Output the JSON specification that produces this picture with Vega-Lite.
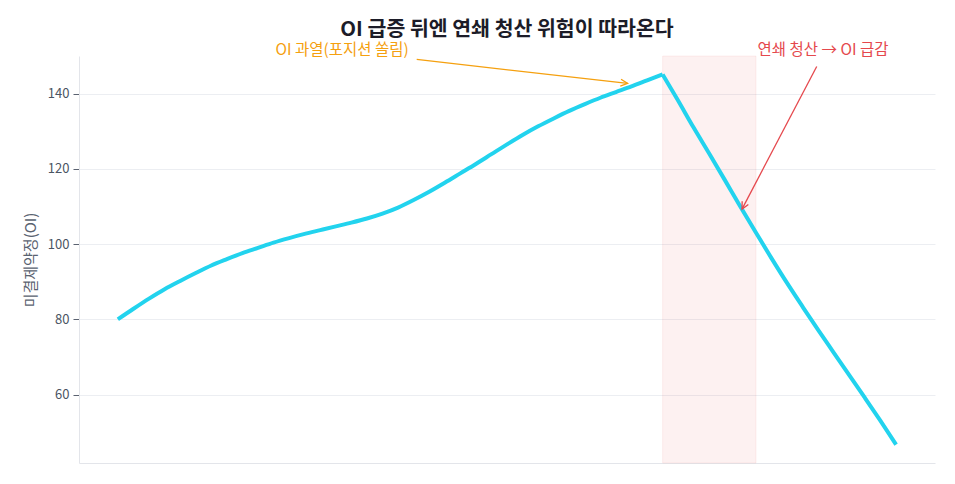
{
  "$schema": "https://vega.github.io/schema/vega-lite/v6.json",
  "width": 856,
  "height": 407,
  "autosize": "none",
  "padding": {"left": 79, "top": 56, "right": 20, "bottom": 21},
  "background": "white",
  "config": {
    "font": "Noto Sans CJK KR",
    "view": {"stroke": null}
  },
  "title": {
    "text": "OI 급증 뒤엔 연쇄 청산 위험이 따라온다",
    "fontSize": 20.5,
    "fontWeight": "bold",
    "color": "#1c1c28",
    "anchor": "middle",
    "baseline": "bottom",
    "offset": -17
  },
  "datasets": {
    "oi": [
      {"t": 0, "oi": 80.0, "seg": "up"}, {"t": 2, "oi": 82.8, "seg": "up"}, {"t": 4, "oi": 85.5, "seg": "up"}, {"t": 6, "oi": 88.0, "seg": "up"},
      {"t": 8, "oi": 90.2, "seg": "up"}, {"t": 10, "oi": 92.3, "seg": "up"}, {"t": 12, "oi": 94.3, "seg": "up"}, {"t": 14, "oi": 96.0, "seg": "up"},
      {"t": 16, "oi": 97.6, "seg": "up"}, {"t": 18, "oi": 99.0, "seg": "up"}, {"t": 20, "oi": 100.4, "seg": "up"}, {"t": 22, "oi": 101.6, "seg": "up"},
      {"t": 24, "oi": 102.7, "seg": "up"}, {"t": 26, "oi": 103.7, "seg": "up"}, {"t": 28, "oi": 104.7, "seg": "up"}, {"t": 30, "oi": 105.7, "seg": "up"},
      {"t": 32, "oi": 106.8, "seg": "up"}, {"t": 34, "oi": 108.1, "seg": "up"}, {"t": 36, "oi": 109.7, "seg": "up"}, {"t": 38, "oi": 111.7, "seg": "up"},
      {"t": 40, "oi": 113.9, "seg": "up"}, {"t": 42, "oi": 116.3, "seg": "up"}, {"t": 44, "oi": 118.8, "seg": "up"}, {"t": 46, "oi": 121.3, "seg": "up"},
      {"t": 48, "oi": 123.9, "seg": "up"}, {"t": 50, "oi": 126.5, "seg": "up"}, {"t": 52, "oi": 129.0, "seg": "up"}, {"t": 54, "oi": 131.3, "seg": "up"},
      {"t": 56, "oi": 133.4, "seg": "up"}, {"t": 58, "oi": 135.4, "seg": "up"}, {"t": 60, "oi": 137.2, "seg": "up"}, {"t": 62, "oi": 138.9, "seg": "up"},
      {"t": 64, "oi": 140.4, "seg": "up"}, {"t": 66, "oi": 141.9, "seg": "up"}, {"t": 68, "oi": 143.5, "seg": "up"}, {"t": 70, "oi": 145.1, "seg": "up"},
      {"t": 70, "oi": 145.1, "seg": "down"},
      {"t": 72, "oi": 138.1, "seg": "down"}, {"t": 74, "oi": 130.9, "seg": "down"}, {"t": 76, "oi": 124.0, "seg": "down"}, {"t": 78, "oi": 117.0, "seg": "down"},
      {"t": 80, "oi": 109.9, "seg": "down"}, {"t": 82, "oi": 103.0, "seg": "down"}, {"t": 84, "oi": 96.2, "seg": "down"}, {"t": 86, "oi": 89.6, "seg": "down"},
      {"t": 88, "oi": 83.3, "seg": "down"}, {"t": 90, "oi": 77.1, "seg": "down"}, {"t": 92, "oi": 71.1, "seg": "down"}, {"t": 94, "oi": 65.1, "seg": "down"},
      {"t": 96, "oi": 59.1, "seg": "down"}, {"t": 98, "oi": 53.0, "seg": "down"}, {"t": 100, "oi": 46.7, "seg": "down"}
    ],
    "shade": [{"start": 70, "end": 82}],
    "arrows": [
      {"x1": 38.4, "y1": 149.1, "x2": 65.5, "y2": 142.7, "kind": "heat", "angle": 6.5},
      {"x1": 89.8, "y1": 147.2, "x2": 80.2, "y2": 109.3, "kind": "liq", "angle": 117.7}
    ],
    "labels": [
      {"x": 28.8, "y": 151.5, "label": "OI 과열(포지션 쏠림)", "kind": "heat"},
      {"x": 90.6, "y": 151.5, "label": "연쇄 청산 → OI 급감", "kind": "liq"}
    ]
  },
  "layer": [
    {
      "data": {"name": "shade"},
      "mark": {"type": "rect", "fill": "#e5484d", "fillOpacity": 0.08, "stroke": "#e5484d", "strokeOpacity": 0.08, "strokeWidth": 1},
      "encoding": {
        "x": {"field": "start", "type": "quantitative", "scale": {"domain": [-5, 105], "nice": false, "zero": false},
              "axis": {"title": null, "labels": false, "ticks": false, "grid": false, "domain": true, "domainColor": "#e3e5ea"}},
        "x2": {"field": "end"}
      }
    },
    {
      "data": {"name": "oi"},
      "mark": {"type": "line", "color": "#22d3ee", "strokeWidth": 4, "strokeJoin": "round", "strokeCap": "butt", "interpolate": "monotone"},
      "encoding": {
        "x": {"field": "t", "type": "quantitative", "scale": {"domain": [-5, 105], "nice": false, "zero": false}},
        "y": {"field": "oi", "type": "quantitative",
              "scale": {"domain": [41.8, 150], "nice": false, "zero": false},
              "axis": {"title": "미결제약정(OI)", "values": [60, 80, 100, 120, 140],
                       "titleFontSize": 15, "titleFontWeight": "normal", "titleColor": "#5a6270", "titlePadding": 9,
                       "labelFontSize": 13, "labelColor": "#4b5563", "labelPadding": 4,
                       "tickSize": 6, "tickColor": "#5a6270", "domainColor": "#e3e5ea",
                       "grid": true, "gridColor": "#eceef2", "gridWidth": 1}},
        "detail": {"field": "seg", "type": "nominal"}
      }
    },
    {
      "data": {"name": "arrows"},
      "mark": {"type": "rule", "strokeWidth": 1.3},
      "encoding": {
        "x": {"field": "x1", "type": "quantitative"},
        "y": {"field": "y1", "type": "quantitative"},
        "x2": {"field": "x2"},
        "y2": {"field": "y2"},
        "color": {"field": "kind", "type": "nominal", "scale": {"domain": ["heat", "liq"], "range": ["#f5a00f", "#e5484d"]}, "legend": null}
      }
    },
    {
      "data": {"name": "arrows"},
      "mark": {"type": "point", "shape": "M-1,-0.5L0,0L-1,0.5", "filled": false, "strokeWidth": 1.3, "size": 196, "opacity": 1},
      "encoding": {
        "x": {"field": "x2", "type": "quantitative"},
        "y": {"field": "y2", "type": "quantitative"},
        "angle": {"field": "angle", "type": "quantitative", "scale": null},
        "color": {"field": "kind", "type": "nominal", "legend": null}
      }
    },
    {
      "data": {"name": "labels"},
      "mark": {"type": "text", "fontSize": 15.5, "align": "center", "baseline": "middle"},
      "encoding": {
        "x": {"field": "x", "type": "quantitative"},
        "y": {"field": "y", "type": "quantitative"},
        "text": {"field": "label"},
        "color": {"field": "kind", "type": "nominal", "legend": null}
      }
    }
  ]
}
